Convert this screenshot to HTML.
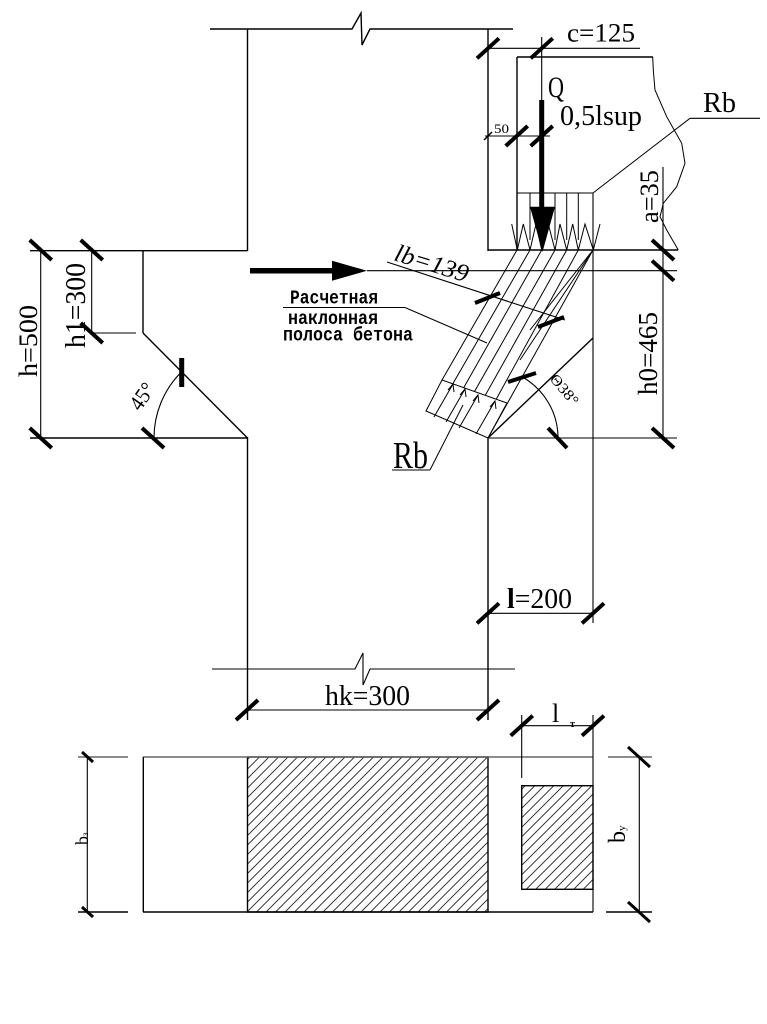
<!DOCTYPE html>
<html><head><meta charset="utf-8"><style>
html,body{margin:0;padding:0;background:#fff;}
svg{display:block;}
text{font-family:"Liberation Serif",serif;fill:#000;}
.m{font-family:"Liberation Mono",monospace;font-weight:bold;}
</style></head><body>
<svg width="767" height="1024" viewBox="0 0 767 1024" xmlns="http://www.w3.org/2000/svg">
<defs>
<pattern id="h" patternUnits="userSpaceOnUse" width="9.5" height="9.5">
<path d="M-1,10.5 L10.5,-1 M-1,1 L1,-1 M8.5,10.5 L10.5,8.5" stroke="#222" stroke-width="0.9"/>
</pattern>
</defs>
<rect width="767" height="1024" fill="#fff"/>
<g fill="none" stroke="#000" stroke-width="1.4">
<polyline points="210,29 352,29 361,13 362,45 370,29 513,29"/>
<line x1="247.5" y1="29" x2="247.5" y2="251"/>
<line x1="488" y1="29" x2="488" y2="251"/>
<line x1="247.5" y1="437" x2="247.5" y2="720"/>
<line x1="488" y1="437" x2="488" y2="720"/>
<polyline points="212,669 355,669 363,653 363,685 370,669 515,669" stroke-width="1.1"/>
<line x1="30" y1="250.7" x2="247.5" y2="250.7"/>
<line x1="143" y1="250.7" x2="143" y2="333"/>
<line x1="143" y1="333" x2="247.5" y2="438"/>
<line x1="92" y1="333" x2="136" y2="333" stroke-width="1.1"/>
<line x1="30" y1="438" x2="247.5" y2="438"/>
<line x1="40.7" y1="250" x2="40.7" y2="438" stroke-width="1.1"/>
<line x1="91.7" y1="250" x2="91.7" y2="333" stroke-width="1.1"/>
<path d="M154,438 A93,93 0 0 1 181.2,372.2" stroke-width="1.1"/>
<line x1="488" y1="250" x2="678" y2="250"/>
<line x1="593" y1="250" x2="593" y2="623" stroke-width="1.1"/>
<line x1="593" y1="338" x2="488" y2="438"/>
<line x1="488" y1="438" x2="677" y2="438" stroke-width="1.1"/>
<line x1="367" y1="270.7" x2="677" y2="270.7" stroke-width="1.1"/>
<line x1="663" y1="167" x2="663" y2="438" stroke-width="1.1"/>
<line x1="517" y1="57" x2="517" y2="250"/>
<line x1="517" y1="57" x2="653" y2="57"/>
<polyline points="652.7,57 653.3,70 655,90 666.7,116.7 681.7,143.3 685,163.3 676.7,186.7 663.3,203.3 660,216.7 666.7,230 678.3,250" stroke-width="1"/>
<line x1="488" y1="48.3" x2="640" y2="48.3" stroke-width="1.1"/>
<line x1="541.7" y1="37" x2="541.7" y2="100" stroke-width="1.1"/>
<line x1="485" y1="136" x2="550" y2="136" stroke-width="1.1"/>
<line x1="517" y1="193" x2="593" y2="193" stroke-width="1.1"/>
<line x1="593" y1="193" x2="593" y2="250" stroke-width="1.1"/>
<line x1="530" y1="193" x2="530" y2="240" stroke-width="1"/>
<line x1="555" y1="193" x2="555" y2="240" stroke-width="1"/>
<line x1="566.7" y1="193" x2="566.7" y2="240" stroke-width="1"/>
<line x1="578.3" y1="193" x2="578.3" y2="240" stroke-width="1"/>
<polyline points="511.7,224 517.3,250 523.3,224 530,250 536,224 541.7,250 548.3,224 555,250 560,224 566.7,250 572.7,224 578.3,250 585,224 593.3,250 600,224" stroke-width="1"/>
<line x1="690" y1="118.3" x2="760" y2="118.3" stroke-width="1.1"/>
<line x1="690" y1="118.3" x2="593" y2="193" stroke-width="1"/>
<g stroke-width="1">
<line x1="517" y1="250" x2="442" y2="380"/>
<line x1="593" y1="250" x2="488" y2="438"/>
<line x1="530" y1="250" x2="452.8" y2="383.8"/>
<line x1="541.7" y1="250" x2="463.7" y2="387.7"/>
<line x1="555" y1="250" x2="474.5" y2="391.5"/>
<line x1="566.7" y1="250" x2="485.3" y2="395.3"/>
<line x1="578.3" y1="250" x2="496.2" y2="399.2"/>
<line x1="593" y1="250" x2="530" y2="330"/>
<line x1="593" y1="250" x2="520" y2="360"/>
<polygon points="442,380 507,403 488,438 426,411"/>
<line x1="434" y1="417" x2="453" y2="384"/>
<line x1="446" y1="422" x2="465" y2="389"/>
<line x1="459" y1="428" x2="478" y2="395"/>
<line x1="476" y1="434" x2="495" y2="401"/>
<polyline points="448,390 453,384 454,392"/>
<polyline points="460,395 465,389 466,397"/>
<polyline points="473,401 478,395 479,403"/>
<polyline points="490,407 495,401 496,409"/>
</g>
<line x1="387" y1="262" x2="565" y2="320" stroke-width="1.1"/>
<path d="M523,377.4 A70,70 0 0 1 558,438" stroke-width="1.1"/>
<line x1="392" y1="470" x2="430" y2="470" stroke-width="1.1"/>
<line x1="430" y1="470" x2="463" y2="405" stroke-width="1"/>
<line x1="283" y1="307.5" x2="405" y2="307.5" stroke-width="1.1"/>
<line x1="405" y1="307.5" x2="487" y2="343" stroke-width="1"/>
<line x1="488" y1="613.3" x2="593" y2="613.3" stroke-width="1.1"/>
<line x1="247" y1="710" x2="488" y2="710" stroke-width="1.1"/>
</g>

<rect x="539.2" y="100" width="5" height="110" fill="#000"/>
<polygon points="530,206.7 555,206.7 542.5,252" fill="#000"/>
<rect x="250" y="268" width="84" height="5.5" fill="#000"/>
<polygon points="332,260.7 332,280.7 367,270.7" fill="#000"/>

<g stroke="#000" stroke-width="4" stroke-linecap="butt">
<path d="M477,58.3 L499,38.3"/>
<path d="M530.7,58.3 L552.7,38.3"/>
<path d="M505.7,146 L527.7,126"/>
<path d="M530.7,146 L552.7,126"/>
<path d="M236,720 L258,700"/>
<path d="M477,720 L499,700"/>
<path d="M477,623.3 L499,603.3"/>
<path d="M582,623.3 L604,603.3"/>
<path d="M510.7,735.7 L532.7,715.7"/>
<path d="M582,735.7 L604,715.7"/>
<path d="M29.7,240 L51.7,260"/>
<path d="M80.7,240 L102.7,260"/>
<path d="M80.7,323 L102.7,343"/>
<path d="M29.7,428 L51.7,448"/>
<path d="M142,428 L164,448"/>
<path d="M652,240 L674,260"/>
<path d="M652,260.7 L674,280.7"/>
<path d="M652,428 L674,448"/>
<path d="M181.7,358 L181.7,387" stroke-width="5"/>
<path d="M475,303 L500,293"/>
<path d="M538,327 L564,317"/>
<path d="M508,382 L536,373"/>
<path d="M548,428 L567,448"/>
</g>
<path d="M484,140 L492,132" stroke="#000" stroke-width="1.5"/>

<g fill="none" stroke="#000" stroke-width="1.4">
<rect x="247.5" y="757" width="240.5" height="155" fill="url(#h)"/>
<rect x="521.7" y="785.7" width="71.3" height="103.6" fill="url(#h)"/>
<line x1="78" y1="757" x2="128" y2="757" stroke="#666"/>
<line x1="143" y1="757" x2="593" y2="757" stroke="#666"/>
<line x1="608" y1="757" x2="652" y2="757" stroke="#666"/>
<line x1="78" y1="912" x2="128" y2="912"/>
<line x1="143" y1="912" x2="593" y2="912"/>
<line x1="606" y1="912" x2="652" y2="912"/>
<line x1="143.3" y1="757" x2="143.3" y2="912"/>
<line x1="593" y1="715" x2="593" y2="912" stroke-width="1.1"/>
<line x1="521.7" y1="715" x2="521.7" y2="778" stroke-width="1.1"/>
<line x1="521.7" y1="725.7" x2="593" y2="725.7" stroke-width="1.1"/>
<line x1="87.3" y1="757" x2="87.3" y2="912" stroke-width="1.1"/>
<line x1="639.3" y1="757" x2="639.3" y2="912" stroke-width="1.1"/>
</g>
<g stroke="#000" stroke-width="3">
<path d="M82,752 L93,762"/>
<path d="M82,907 L93,917"/>
<path d="M628,747 L650,767"/>
<path d="M628,902 L650,922"/>
</g>

<text x="567" y="41.5" font-size="26" textLength="68" lengthAdjust="spacingAndGlyphs">c=125</text>
<text x="548" y="97" font-size="30" textLength="16" lengthAdjust="spacingAndGlyphs">Q</text>
<text x="560" y="125" font-size="28" textLength="82" lengthAdjust="spacingAndGlyphs">0,5lsup</text>
<text x="494" y="133" font-size="13" textLength="15" lengthAdjust="spacingAndGlyphs">50</text>
<text x="703" y="112" font-size="28" textLength="33" lengthAdjust="spacingAndGlyphs">Rb</text>
<text transform="translate(658,223) rotate(-90)" font-size="26" textLength="53" lengthAdjust="spacingAndGlyphs">a=35</text>
<text transform="translate(393,260) rotate(17)" font-size="25" font-style="italic" textLength="76" lengthAdjust="spacingAndGlyphs">lb=139</text>
<text class="m" x="290" y="303.5" font-size="19" textLength="88" lengthAdjust="spacingAndGlyphs">Расчетная</text>
<text class="m" x="288" y="324" font-size="19" textLength="90" lengthAdjust="spacingAndGlyphs">наклонная</text>
<text class="m" x="283" y="340.7" font-size="19" textLength="130" lengthAdjust="spacingAndGlyphs">полоса бетона</text>
<text transform="translate(657,395) rotate(-90)" font-size="27" textLength="83" lengthAdjust="spacingAndGlyphs">h0=465</text>
<text transform="translate(549,379) rotate(50)" font-size="15" textLength="36" lengthAdjust="spacingAndGlyphs">Θ38°</text>
<text x="393" y="468" font-size="38" textLength="35" lengthAdjust="spacingAndGlyphs">Rb</text>
<text x="507" y="608" font-size="28" textLength="65" lengthAdjust="spacingAndGlyphs"><tspan font-weight="bold">l</tspan>=200</text>
<text x="325" y="705" font-size="28" textLength="85" lengthAdjust="spacingAndGlyphs">hk=300</text>
<text transform="translate(37,377) rotate(-90)" font-size="26" textLength="72" lengthAdjust="spacingAndGlyphs">h=500</text>
<text transform="translate(85,348) rotate(-90)" font-size="28" textLength="85" lengthAdjust="spacingAndGlyphs">h1=300</text>
<text transform="translate(140,412) rotate(-55)" font-size="22" textLength="28" lengthAdjust="spacingAndGlyphs">45°</text>
<text x="552" y="722" font-size="26">l</text>
<text x="570" y="727" font-size="10" font-weight="bold">т</text>
<text transform="translate(88,845) rotate(-90)" font-size="18">b<tspan font-size="9">з</tspan></text>
<text transform="translate(625,843) rotate(-90)" font-size="24">b<tspan font-size="11">у</tspan></text>
</svg>
</body></html>
